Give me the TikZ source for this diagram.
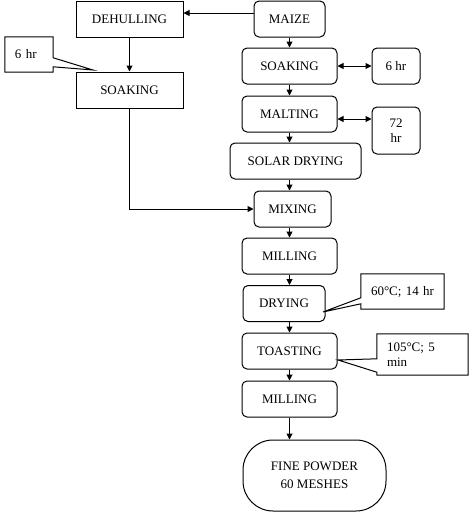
\documentclass[tikz,border=0pt]{standalone}
\usepackage{fontspec}
\setmainfont{Liberation Serif}
\usetikzlibrary{arrows.meta,calc}

\def\scale{1}
\def\sqlist{{(129.5,19)/dehull/DEHULLING}, {(129.5,90)/soakL/SOAKING}}
\def\rdlist{{(289.5,19)/maize/71/MAIZE}, {(289.5,66)/soakR/95/SOAKING}, {(396,66)/hrsix/48/6 hr}, {(289.5,114)/malt/95/MALTING}, {(295.5,161)/solar/131/SOLAR DRYING}, {(292.5,209)/mix/77/MIXING}, {(289.5,256)/millA/95/MILLING}, {(284,303.5)/dry/82/DRYING}, {(289.5,351)/toast/95/TOASTING}, {(289.5,399)/millB/95/MILLING}}
\tikzstyle{stage}=[draw, line width=1pt, rectangle, minimum height=36pt, inner sep=0pt, font=\fontsize{13}{15}\selectfont]
\tikzstyle{round-stage}=[stage, rounded corners=5pt]
\tikzstyle{note}=[rectangle, inner xsep=10pt, inner ysep=0pt, align=left, font=\fontsize{13}{15}\selectfont]
\tikzstyle{outline}=[draw, line width=1pt, line join=miter]
\tikzstyle{flow}=[draw, line width=1pt, -{Triangle[length=6pt,width=6pt]}]
\tikzstyle{twoway}=[draw, line width=1pt, {Triangle[length=6pt,width=6pt]}-{Triangle[length=6pt,width=6pt]}]

\begin{document}
\begin{tikzpicture}[x=\scale pt, y=-\scale pt]
  \useasboundingbox (0,0) rectangle (474,520);
  \foreach \pos/\name/\txt in \sqlist {
    \node[stage, minimum width=107pt] (\name) at \pos {\txt};
  }
  \foreach \pos/\name/\w/\txt in \rdlist {
    \node[round-stage, minimum width=\w pt] (\name) at \pos {\txt};
  }
  \node[round-stage, minimum width=48pt, minimum height=47pt, align=center] (hrseventytwo) at (396,130.5) {72\\hr};
  \node[stage, rounded corners=30pt, minimum width=143pt, minimum height=71pt, align=center, font=\fontsize{13}{18}\selectfont] (fine) at (314.5,475.5) {FINE POWDER\\60 MESHES};

  % notes with pointers
  \node[note, minimum width=48pt, minimum height=35pt, text width=28pt] (csix) at (29,54.5) {6 hr};
  \node[note, minimum width=83pt, minimum height=35pt, text width=65pt, inner xsep=9pt, align=center] (csixty) at (402.5,291.5) {60°C; 14 hr};
  \node[note, minimum width=91pt, minimum height=41pt, text width=71pt] (conefive) at (422.5,354.5) {105°C; 5\\min};
  \coordinate (tipL) at (93,70);
  \coordinate (tipsixty) at (323,312);
  \coordinate (tiponefive) at (338,360);
  \path[outline] (csix.north west) -- (csix.north east) -- ($(csix.north east)+(0,21)$) -- (tipL) -- ($(csix.north east)+(0,30)$) -- (csix.south east) -- (csix.south west) -- cycle;
  \path[outline] (csixty.north west) -- (csixty.north east) -- (csixty.south east) -- (csixty.south west) -- ($(csixty.north west)+(0,30)$) -- (tipsixty) -- ($(csixty.north west)+(0,24)$) -- cycle;
  \path[outline] (conefive.north west) -- (conefive.north east) -- (conefive.south east) -- (conefive.south west) -- ($(conefive.south west)+(0,-3)$) -- (tiponefive) -- ($(conefive.north west)+(0,25)$) -- cycle;

  \coordinate (spine) at (289.5,0);
  \foreach \source/\sink in {maize/soakR, soakR/malt, malt/solar, solar/mix, mix/millA, millA/dry, dry/toast, toast/millB, millB/fine} {
    \path[flow] (\source.south -| spine) -- (\sink.north -| spine);
  }
  \path[flow] ([yshift=6pt]maize.west) -- ([yshift=6pt]maize.west -| dehull.east);
  \path[flow] (dehull) -- (soakL);
  \path[flow] (soakL.south) |- (mix.west);
  \path[twoway] (soakR.east) -- (hrsix.west);
  \path[twoway] ([yshift=-5pt]malt.east) -- ([yshift=-5pt]malt.east -| hrseventytwo.west);
\end{tikzpicture}
\end{document}
